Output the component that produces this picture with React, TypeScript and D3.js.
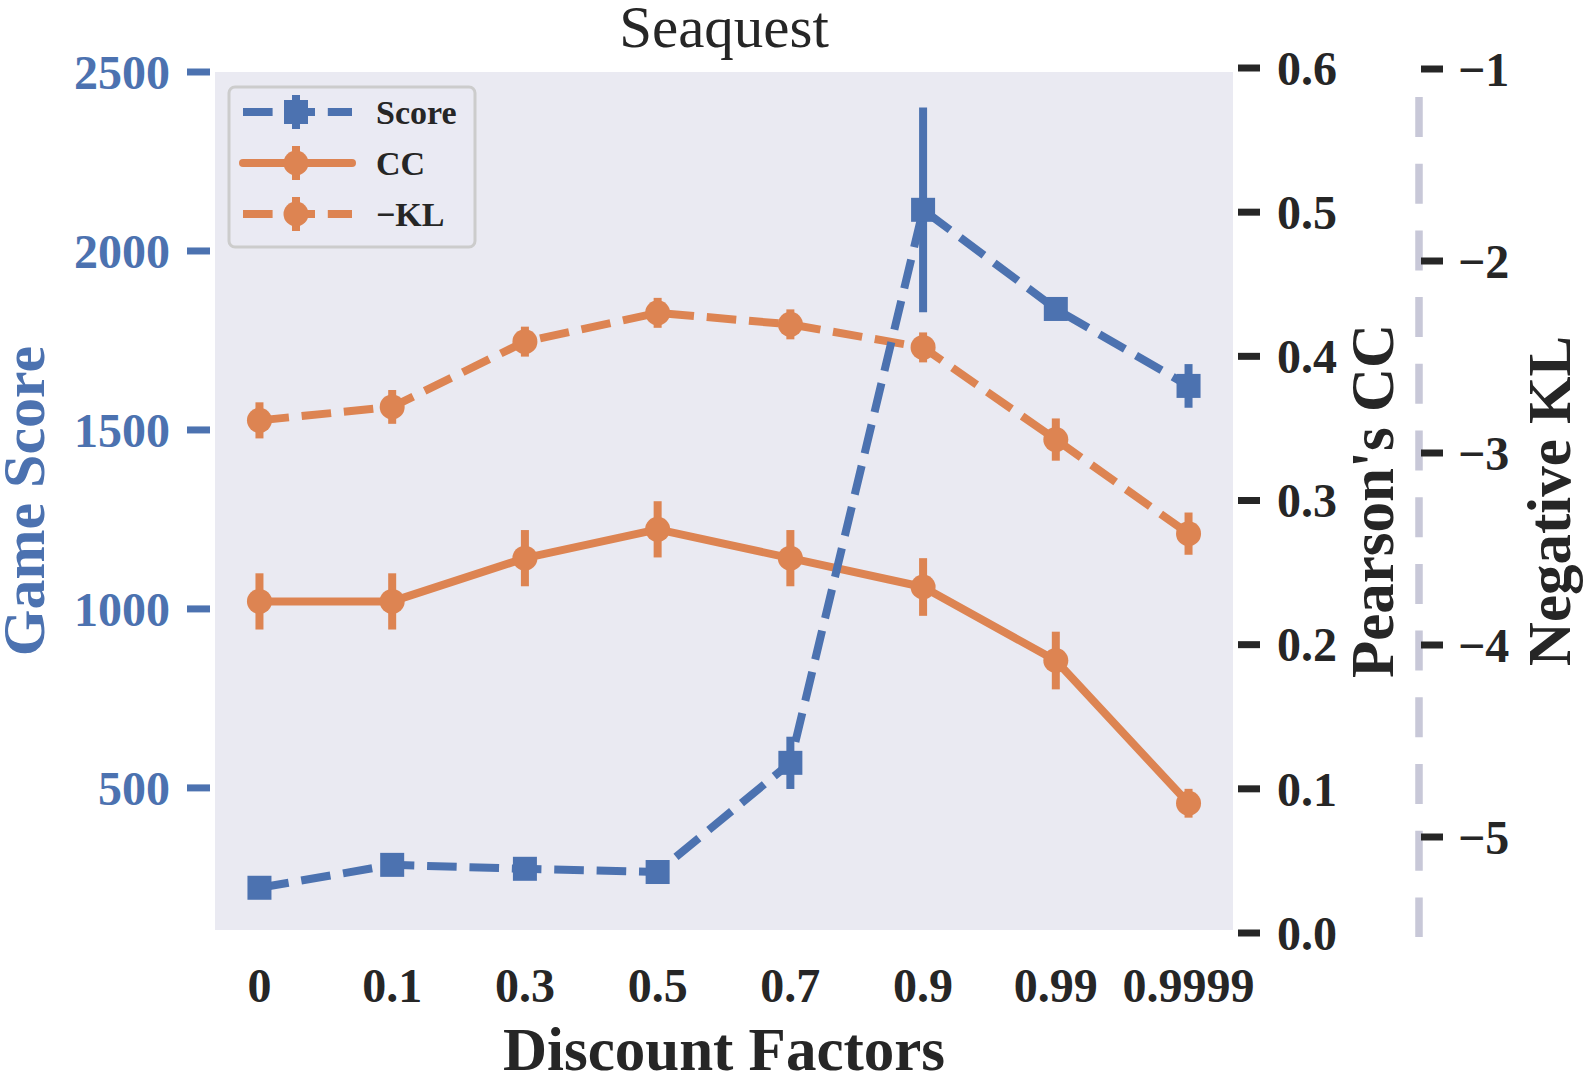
import React from "react";
import * as d3 from "d3";

const categories = ["0", "0.1", "0.3", "0.5", "0.7", "0.9", "0.99", "0.9999"];
const scoreMean = [221, 285, 274, 265, 570, 2115, 1838, 1623];
const scoreErr = [15, 15, 15, 15, 73, 286, 25, 61];
const ccMean = [0.23, 0.23, 0.26, 0.28, 0.26, 0.24, 0.189, 0.09];
const ccErr = [0.0195, 0.0195, 0.0195, 0.0195, 0.0195, 0.02, 0.02, 0.01];
const klMean = [-2.83, -2.76, -2.42, -2.27, -2.33, -2.45, -2.93, -3.42];
const klErr = [0.094, 0.088, 0.078, 0.078, 0.078, 0.078, 0.11, 0.11];

const scoreTicks = [500, 1000, 1500, 2000, 2500];
const ccTicks = [0, 0.1, 0.2, 0.3, 0.4, 0.5, 0.6];
const klTicks = [-5, -4, -3, -2, -1];

const W = 1585;
const H = 1086;
const plot = { left: 215, right: 1233, top: 72, bottom: 930 };
const BLUE = "#4C72B0";
const ORANGE = "#DD8452";
const DARK = "#262626";
const FONT = "'Liberation Serif', 'Times New Roman', serif";
const DASH = "29.6 12.8";
const LW = 8;

export default function App() {
  const x = d3
    .scalePoint<string>()
    .domain(categories)
    .range([plot.left, plot.right])
    .padding(0.335);
  const yScore = d3.scaleLinear().domain([103, 2500]).range([plot.bottom, plot.top]);
  const yCC = d3.scaleLinear().domain([0, 0.6]).range([933, 68]);
  const yKL = d3.scaleLinear().domain([-5, -1]).range([837, 69]);

  const ccFmt = d3.format(".1f");
  const klFmt = d3.format("d");

  const series = [
    { key: "kl", mean: klMean, err: klErr, y: yKL, color: ORANGE, dash: DASH, marker: "circle" },
    { key: "cc", mean: ccMean, err: ccErr, y: yCC, color: ORANGE, dash: undefined, marker: "circle" },
    { key: "score", mean: scoreMean, err: scoreErr, y: yScore, color: BLUE, dash: DASH, marker: "square" },
  ];

  const renderMarker = (type: string, cx: number, cy: number, color: string, k: string) =>
    type === "square" ? (
      <rect key={k} x={cx - 12} y={cy - 12} width={24} height={24} fill={color} />
    ) : (
      <circle key={k} cx={cx} cy={cy} r={12.5} fill={color} />
    );

  const legendItems = [
    { label: "Score", color: BLUE, dash: DASH, marker: "square" },
    { label: "CC", color: ORANGE, dash: undefined, marker: "circle" },
    { label: "\u2212KL", color: ORANGE, dash: DASH, marker: "circle" },
  ];

  return (
    <svg
      width={W}
      height={H}
      viewBox={`0 0 ${W} ${H}`}
      style={{ position: "absolute", left: 0, top: 0, background: "#fff" }}
      fontFamily={FONT}
    >
      <rect x={0} y={0} width={W} height={H} fill="#fff" />
      <rect
        x={plot.left}
        y={plot.top}
        width={plot.right - plot.left}
        height={plot.bottom - plot.top}
        fill="#EAEAF2"
      />

      {/* Title */}
      <text x={(plot.left + plot.right) / 2} y={47} textAnchor="middle" fontSize={59} fill={DARK}>
        Seaquest
      </text>

      {/* Series */}
      {series.map((s) => {
        const line = d3
          .line<number>()
          .x((_, i) => x(categories[i]) as number)
          .y((d) => s.y(d));
        return (
          <g key={s.key}>
            <path
              d={line(s.mean) || ""}
              fill="none"
              stroke={s.color}
              strokeWidth={LW}
              strokeDasharray={s.dash}
              strokeLinejoin="round"
            />
            {s.mean.map((m, i) => (
              <line
                key={"e" + i}
                x1={x(categories[i])}
                x2={x(categories[i])}
                y1={s.y(m - s.err[i])}
                y2={s.y(m + s.err[i])}
                stroke={s.color}
                strokeWidth={LW}
              />
            ))}
            {s.mean.map((m, i) =>
              renderMarker(s.marker, x(categories[i]) as number, s.y(m), s.color, "m" + i)
            )}
          </g>
        );
      })}

      {/* Legend */}
      <g>
        <rect x={229} y={87} width={246} height={160} rx={6} fill="#EAEAF2" fillOpacity={0.8} stroke="#cccccc" strokeWidth={3} />
        {legendItems.map((it, i) => {
          const cy = 112 + i * 51;
          return (
            <g key={it.label}>
              <line x1={243} x2={352} y1={cy} y2={cy} stroke={it.color} strokeWidth={LW} strokeDasharray={it.dash} strokeLinecap={it.dash ? "butt" : "round"} />
              <line x1={296} x2={296} y1={cy - 17} y2={cy + 17} stroke={it.color} strokeWidth={LW} />
              {renderMarker(it.marker, 296, cy, it.color, "lm")}
              <text x={376} y={cy} dy="0.35em" fontSize={34} fontWeight="bold" fill={DARK}>
                {it.label}
              </text>
            </g>
          );
        })}
      </g>

      {/* Left axis (Score) */}
      {scoreTicks.map((t) => (
        <g key={t}>
          <line x1={187} x2={210} y1={yScore(t)} y2={yScore(t)} stroke={BLUE} strokeWidth={7} />
          <text x={170} y={yScore(t)} dy="0.35em" textAnchor="end" fontSize={48} fontWeight="bold" fill={BLUE}>
            {t}
          </text>
        </g>
      ))}
      <text
        transform={`translate(44, ${(plot.top + plot.bottom) / 2}) rotate(-90)`}
        textAnchor="middle"
        fontSize={60}
        fontWeight="bold"
        fill={BLUE}
      >
        Game Score
      </text>

      {/* CC axis */}
      {ccTicks.map((t) => (
        <g key={t}>
          <line x1={1238} x2={1260} y1={yCC(t)} y2={yCC(t)} stroke={DARK} strokeWidth={7} />
          <text x={1277} y={yCC(t)} dy="0.35em" fontSize={48} fontWeight="bold" fill={DARK}>
            {ccFmt(t)}
          </text>
        </g>
      ))}
      <text
        transform={`translate(1393, ${(plot.top + plot.bottom) / 2}) rotate(-90)`}
        textAnchor="middle"
        fontSize={61}
        fontWeight="bold"
        fill={DARK}
      >
        Pearson's CC
      </text>

      {/* KL axis */}
      <line x1={1419} x2={1419} y1={97} y2={937} stroke="#C8C8D8" strokeWidth={7.5} strokeDasharray="40 26.7" />
      {klTicks.map((t) => (
        <g key={t}>
          <line x1={1421} x2={1443} y1={yKL(t)} y2={yKL(t)} stroke={DARK} strokeWidth={7} />
          <text x={1458} y={yKL(t)} dy="0.35em" fontSize={48} fontWeight="bold" fill={DARK}>
            {klFmt(t)}
          </text>
        </g>
      ))}
      <text
        transform={`translate(1570, ${(plot.top + plot.bottom) / 2}) rotate(-90)`}
        textAnchor="middle"
        fontSize={61}
        fontWeight="bold"
        fill={DARK}
      >
        Negative KL
      </text>

      {/* X axis */}
      {categories.map((c) => (
        <text key={c} x={x(c)} y={1002} textAnchor="middle" fontSize={48} fontWeight="bold" fill={DARK}>
          {c}
        </text>
      ))}
      <text x={(plot.left + plot.right) / 2} y={1070} textAnchor="middle" fontSize={61} fontWeight="bold" fill={DARK}>
        Discount Factors
      </text>
    </svg>
  );
}
